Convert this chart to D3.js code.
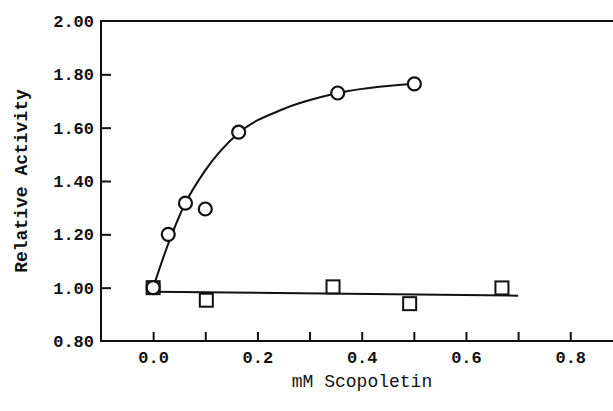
<!DOCTYPE html>
<html>
<head>
<meta charset="utf-8">
<script src="https://cdn.jsdelivr.net/npm/d3@7"></script>
<style>
  body { margin: 0; background: #fff; }
  svg { display: block; }
  text { font-family: "Liberation Mono", "DejaVu Sans Mono", monospace; fill: #111; }
</style>
</head>
<body>
<svg id="chart" width="613" height="411"></svg>
<script>
// scopoletin concentration (mM) vs relative activity
const circleX = [0.0, 0.029, 0.062, 0.10, 0.164, 0.354, 0.501];
const circleY = [1.00, 1.20, 1.317, 1.295, 1.583, 1.730, 1.764];

const squareX = [0.0, 0.102, 0.345, 0.492, 0.669];
const squareY = [1.00, 0.953, 1.003, 0.940, 0.999];

// hand drawn curve through the circles
const curveX = [0.0, 0.03, 0.06, 0.10, 0.164, 0.25, 0.354, 0.50];
const curveY = [1.00, 1.17, 1.31, 1.44, 1.58, 1.67, 1.73, 1.765];

// flat line under the squares
const flatX = [0.0, 0.70];
const flatY = [0.985, 0.97];

const xTicks = [0.0, 0.1, 0.2, 0.3, 0.4, 0.5, 0.6, 0.7, 0.8];
const xLabels = [0.0, 0.2, 0.4, 0.6, 0.8];
const yTicks = [0.80, 1.00, 1.20, 1.40, 1.60, 1.80, 2.00];

const svg = d3.select('#chart');
const plotLeft = 101;
const plotRight = 613;
const plotTop = 21;
const plotBottom = 341;

const x = d3.scaleLinear().domain([-0.1, 0.882]).range([plotLeft, plotRight]);
const y = d3.scaleLinear().domain([0.8, 2.0]).range([plotBottom, plotTop]);

// frame: left axis, bottom axis and top line (no right border)
svg.append('path')
    .attr('d', `M${plotRight},${plotTop}H${plotLeft}V${plotBottom}H${plotRight}`)
    .attr('fill', 'none')
    .attr('stroke', '#111')
    .attr('stroke-width', 2);

// y axis
const yAxis = d3.axisLeft(y)
    .tickValues(yTicks)
    .tickSizeInner(-10)
    .tickSizeOuter(0)
    .tickPadding(7)
    .tickFormat(d3.format('.2f'));

const gy = svg.append('g')
    .attr('transform', `translate(${plotLeft},0)`)
    .call(yAxis);
gy.select('.domain').remove();
gy.selectAll('.tick line').attr('stroke', '#111').attr('stroke-width', 2);
gy.selectAll('.tick text')
    .attr('font-size', 17)
    .attr('font-weight', 'bold')
    .style('font-family', '"Liberation Mono", monospace')
    .attr('fill', '#111');
gy.selectAll('.tick').filter((d) => d === 2.0 || d === 0.8).select('line').remove();

// x axis
const xAxis = d3.axisBottom(x)
    .tickValues(xTicks)
    .tickSizeInner(-9)
    .tickSizeOuter(0)
    .tickPadding(10)
    .tickFormat((d) => (xLabels.some((v) => Math.abs(v - d) < 1e-9) ? d3.format('.1f')(d) : ''));

const gx = svg.append('g')
    .attr('transform', `translate(0,${plotBottom})`)
    .call(xAxis);
gx.select('.domain').remove();
gx.selectAll('.tick line').attr('stroke', '#111').attr('stroke-width', 2);
gx.selectAll('.tick text')
    .attr('font-size', 17)
    .attr('font-weight', 'bold')
    .style('font-family', '"Liberation Mono", monospace')
    .attr('fill', '#111');

// axis titles
svg.append('text')
    .attr('x', 362)
    .attr('y', 387)
    .attr('text-anchor', 'middle')
    .attr('font-size', 18)
    .text('mM Scopoletin');

svg.append('text')
    .attr('transform', 'translate(27,181) rotate(-90)')
    .attr('text-anchor', 'middle')
    .attr('font-size', 18)
    .attr('font-weight', 'bold')
    .text('Relative Activity');

// lines
const line = d3.line()
    .x((d) => x(d[0]))
    .y((d) => y(d[1]));

svg.append('path')
    .datum(curveX.map((v, i) => [v, curveY[i]]))
    .attr('d', line.curve(d3.curveMonotoneX))
    .attr('fill', 'none')
    .attr('stroke', '#111')
    .attr('stroke-width', 2);

svg.append('path')
    .datum(flatX.map((v, i) => [v, flatY[i]]))
    .attr('d', d3.line().x((d) => x(d[0])).y((d) => y(d[1])))
    .attr('fill', 'none')
    .attr('stroke', '#111')
    .attr('stroke-width', 2);

// squares
const side = 13;
svg.selectAll('rect.sq')
    .data(squareX.map((v, i) => [v, squareY[i]]))
    .enter()
    .append('rect')
    .attr('class', 'sq')
    .attr('x', (d) => x(d[0]) - side / 2)
    .attr('y', (d) => y(d[1]) - side / 2)
    .attr('width', side)
    .attr('height', side)
    .attr('fill', '#fff')
    .attr('stroke', '#111')
    .attr('stroke-width', 2);

// circles
svg.selectAll('circle.pt')
    .data(circleX.map((v, i) => [v, circleY[i]]))
    .enter()
    .append('circle')
    .attr('class', 'pt')
    .attr('cx', (d) => x(d[0]))
    .attr('cy', (d) => y(d[1]))
    .attr('r', 6.5)
    .attr('fill', '#fff')
    .attr('stroke', '#111')
    .attr('stroke-width', 2.2);
</script>
</body>
</html>
